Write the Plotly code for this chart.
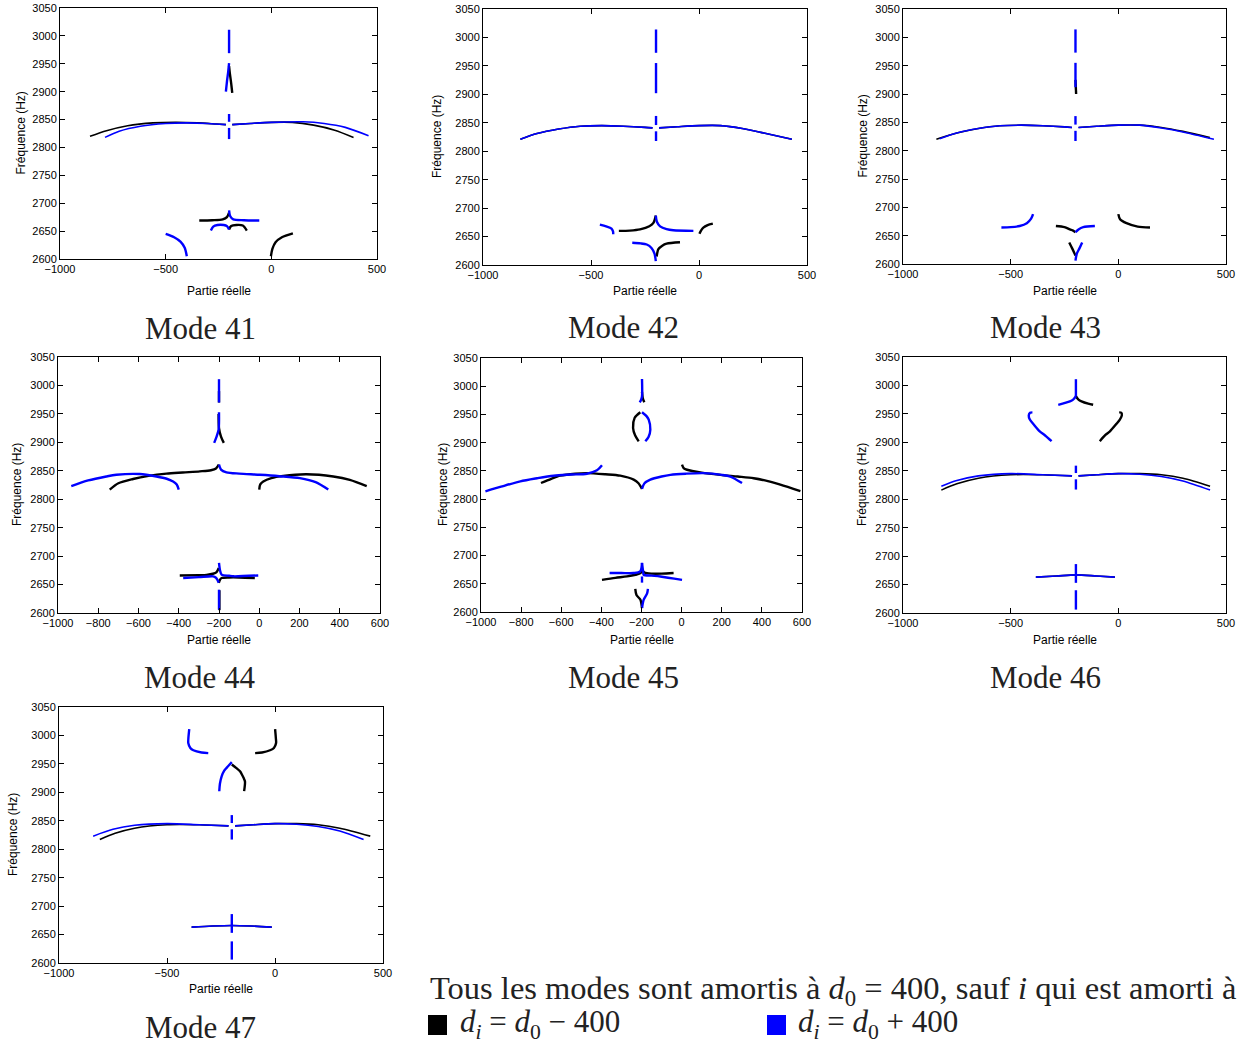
import plotly.graph_objects as go

# ---------------- data ----------------
MODES = ["Mode 41", "Mode 42", "Mode 43", "Mode 44", "Mode 45", "Mode 46", "Mode 47"]
Y_TICKS = [2600, 2650, 2700, 2750, 2800, 2850, 2900, 2950, 3000, 3050]
X_TICKS_A = [-1000, -500, 0, 500]
X_TICKS_B = [-1000, -800, -600, -400, -200, 0, 200, 400, 600]
X_RANGES = [[-1000, 500], [-1000, 500], [-1000, 500], [-1000, 600], [-1000, 600], [-1000, 500], [-1000, 500]]
X_TICKS = [X_TICKS_A, X_TICKS_A, X_TICKS_A, X_TICKS_B, X_TICKS_B, X_TICKS_A, X_TICKS_A]

# each entry: a list of curve segments, each segment a list of (partie reelle, frequence)
M41_BLACK = [
    [(-858, 2820), (-780, 2830), (-680, 2839), (-560, 2844), (-450, 2845), (-350, 2844), (-260, 2842), (-215, 2841)],
    [(-185, 2841), (-100, 2843), (0, 2845), (100, 2845), (200, 2840), (300, 2831), (389, 2818)],
    [(-185, 2898), (-190, 2915), (-196, 2932), (-200, 2946)],
    [(-341, 2669), (-280, 2669.5), (-230, 2671), (-210, 2675), (-200, 2683)],
    [(-200, 2653), (-190, 2659), (-165, 2661), (-135, 2660), (-116, 2651)],
    [(-2, 2605), (5, 2618), (20, 2630), (50, 2639), (102, 2646)],
]
M41_BLUE = [
    [(-200, 2969), (-200, 3011)],
    [(-215, 2900), (-210, 2918), (-204, 2936), (-200, 2951)],
    [(-200, 2815), (-200, 2835)],
    [(-200, 2846), (-200, 2860)],
    [(-787, 2818), (-720, 2829), (-620, 2838), (-500, 2843), (-400, 2844), (-300, 2843), (-215, 2841)],
    [(-185, 2841), (-100, 2843), (0, 2845), (150, 2846), (250, 2843), (350, 2836), (460, 2821)],
    [(-200, 2687), (-195, 2677), (-180, 2671), (-130, 2669.5), (-57, 2669)],
    [(-286, 2651), (-275, 2658), (-255, 2661), (-225, 2661), (-210, 2659), (-200, 2653)],
    [(-500, 2645), (-460, 2639), (-430, 2631), (-410, 2620), (-400, 2605)],
]

M42_BLACK = [
    [(-827, 2821), (-750, 2831), (-650, 2839), (-550, 2844), (-450, 2845), (-350, 2844), (-250, 2842), (-215, 2841)],
    [(-185, 2841), (-100, 2843), (0, 2845), (100, 2845), (200, 2840), (300, 2832), (430, 2821)],
    [(-371, 2660), (-320, 2660.5), (-273, 2662.6), (-230, 2668), (-211, 2674), (-200, 2687)],
    [(2, 2655), (10, 2661), (20, 2665.6), (40, 2670), (64, 2672.6)],
    [(-196, 2615), (-188, 2628), (-170, 2634), (-150, 2637.5), (-88, 2640)],
]
M42_BLUE = [
    [(-199, 2973), (-199, 3014)],
    [(-199, 2902), (-199, 2955)],
    [(-199, 2818), (-199, 2835)],
    [(-199, 2846), (-199, 2862)],
    [(-827, 2821), (-750, 2831), (-650, 2839), (-550, 2844), (-450, 2845), (-350, 2844), (-250, 2842), (-215, 2841)],
    [(-185, 2841), (-100, 2843), (0, 2845), (100, 2845), (200, 2840), (300, 2832), (430, 2821)],
    [(-459, 2671), (-430, 2668), (-405, 2664), (-398, 2659), (-397, 2654)],
    [(-200, 2687), (-195, 2676), (-180, 2668), (-150, 2663), (-119, 2661), (-26, 2660)],
    [(-309, 2639), (-270, 2638), (-242, 2636), (-220, 2630), (-206, 2620), (-200, 2607)],
]

M43_BLACK = [
    [(-845, 2820), (-750, 2831), (-650, 2839), (-550, 2844), (-450, 2845), (-350, 2844), (-250, 2842), (-215, 2841)],
    [(-185, 2841), (-100, 2843), (0, 2845), (100, 2845), (200, 2841), (300, 2834), (425, 2823)],
    [(-196, 2900), (-199, 2925)],
    [(-290, 2667), (-250, 2665), (-225, 2661), (-210, 2659), (-199, 2656)],
    [(0, 2688), (8, 2679), (38, 2672), (90, 2666), (147, 2664.5)],
    [(-228, 2638), (-215, 2628), (-205, 2620), (-199, 2615)],
]
M43_BLUE = [
    [(-199, 2973), (-199, 3014)],
    [(-199, 2912), (-199, 2955)],
    [(-199, 2817), (-199, 2835)],
    [(-199, 2846), (-199, 2861)],
    [(-830, 2821), (-750, 2831), (-650, 2839), (-550, 2844), (-450, 2845), (-350, 2844), (-250, 2842), (-215, 2841)],
    [(-185, 2841), (-100, 2843), (0, 2845), (100, 2845), (200, 2840), (300, 2833), (444, 2820)],
    [(-543, 2664.5), (-500, 2665), (-458, 2667), (-425, 2672), (-405, 2680), (-396, 2688)],
    [(-199, 2656), (-185, 2661), (-163, 2665), (-109, 2667)],
    [(-168, 2638), (-180, 2628), (-193, 2618), (-199, 2606)],
]

M44_BLACK = [
    [(-200, 2970), (-200, 2990)],
    [(-176, 2899), (-190, 2910), (-200, 2925), (-202, 2950)],
    [(-743, 2817), (-700, 2828), (-627, 2835.5), (-550, 2841), (-461, 2845), (-380, 2847), (-295, 2849), (-240, 2851), (-215, 2854), (-201, 2861)],
    [(0, 2817), (5, 2826), (20, 2831), (60, 2837), (119, 2841), (235, 2844), (368, 2840), (450, 2834), (534, 2823)],
    [(-395, 2666), (-300, 2666.5), (-262, 2667), (-230, 2669), (-212, 2672), (-201, 2679)],
    [(-201, 2653), (-194, 2659), (-187, 2661.5), (-150, 2662.5), (-100, 2662.5), (-22, 2661.5)],
    [(-198, 2605), (-198, 2640)],
]
M44_BLUE = [
    [(-200, 2970), (-200, 3011)],
    [(-224, 2899), (-212, 2910), (-202, 2922), (-200, 2935), (-200, 2953)],
    [(-934, 2823), (-850, 2833), (-760, 2840), (-710, 2843), (-594, 2844.3), (-511, 2840), (-460, 2836), (-428, 2831), (-410, 2826), (-400, 2817)],
    [(-200, 2861), (-190, 2852), (-163, 2847.3), (-100, 2845), (3, 2843), (100, 2840.5), (202, 2837), (280, 2830), (343, 2817)],
    [(-200, 2688), (-195, 2675), (-187, 2667.4), (-150, 2665.5), (-129, 2664.5), (-5, 2666)],
    [(-378, 2661.5), (-300, 2663), (-229, 2664.5), (-215, 2662), (-209, 2659), (-201, 2653)],
    [(-200, 2606), (-200, 2641)],
]

M45_BLACK = [
    [(-197.5, 2990), (-193, 2978), (-186, 2971.5)],
    [(-214, 2902.4), (-232, 2913), (-242, 2926), (-234, 2944), (-206, 2954)],
    [(-701, 2828.5), (-650, 2836), (-605, 2841.5), (-530, 2845), (-472, 2846), (-380, 2844), (-306, 2841.5), (-239, 2834.4), (-215, 2828), (-197.5, 2818)],
    [(2, 2861), (10, 2855), (27, 2852), (100, 2847), (193, 2843), (280, 2840), (359, 2837), (430, 2832), (492, 2825.6), (592, 2814)],
    [(-397, 2657), (-330, 2660.5), (-272, 2663), (-230, 2666), (-205, 2669), (-197.5, 2675)],
    [(-197.5, 2675), (-185, 2670), (-150, 2668), (-100, 2668), (-40, 2669)],
    [(-231, 2641), (-225, 2630), (-206, 2622), (-197.5, 2607)],
]
M45_BLUE = [
    [(-197.5, 3012.8), (-197.5, 2982), (-203, 2975), (-209, 2971.5)],
    [(-197.5, 2954), (-175, 2947), (-164, 2940.7), (-156, 2923), (-165, 2910), (-181, 2902.4)],
    [(-978, 2813.8), (-900, 2822), (-804, 2831.5), (-720, 2837), (-638, 2841.5), (-550, 2843.5), (-472, 2845), (-422, 2851), (-397, 2860)],
    [(-197.5, 2818), (-185, 2828), (-156, 2834.4), (-100, 2840), (-56, 2843), (20, 2845), (110, 2846), (200, 2843), (243, 2840), (301, 2828.5)],
    [(-359, 2669), (-300, 2669), (-239, 2669), (-206, 2672), (-197.5, 2687)],
    [(-197.5, 2687), (-192, 2672), (-189, 2666), (-150, 2664.5), (-106, 2663), (2, 2657)],
    [(-197.5, 2652), (-197.5, 2663)],
    [(-168, 2641), (-172, 2633), (-189, 2622), (-197.5, 2607)],
]

M46_BLACK = [
    [(-197, 2981), (-185, 2975), (-171, 2972), (-140, 2968), (-117, 2966)],
    [(-86, 2902), (-60, 2913), (-39, 2919.3), (-10, 2932), (7, 2940), (16, 2947), (14, 2952), (4, 2952.7)],
    [(-822, 2816), (-750, 2827), (-650, 2837), (-500, 2843), (-350, 2843), (-215, 2841)],
    [(-185, 2841), (-100, 2843), (0, 2845), (100, 2845), (200, 2843), (300, 2837), (426, 2823)],
    [(-383, 2663), (-287, 2665), (-197, 2667), (-101, 2665), (-16, 2663)],
]
M46_BLUE = [
    [(-197, 3011), (-197, 2981)],
    [(-197, 2981), (-210, 2975), (-225, 2972), (-279, 2966)],
    [(-310, 2902), (-340, 2912), (-365, 2919.3), (-390, 2930), (-411, 2940), (-416, 2947), (-410, 2952), (-399, 2952.7)],
    [(-822, 2823), (-750, 2833), (-650, 2841), (-500, 2845), (-350, 2843), (-215, 2841)],
    [(-185, 2841), (-100, 2843), (0, 2845), (100, 2844), (200, 2840), (300, 2832), (426, 2816)],
    [(-197, 2817), (-197, 2835)],
    [(-197, 2846), (-197, 2859)],
    [(-383, 2663), (-287, 2665), (-197, 2667), (-101, 2665), (-16, 2663)],
    [(-197, 2653), (-197, 2686)],
    [(-197, 2606), (-197, 2640)],
]

M47_BLACK = [
    [(0.5, 3011), (4, 2995), (5, 2986.7), (-5, 2978), (-23, 2974), (-60, 2970), (-92, 2969)],
    [(-200, 2949), (-180, 2943), (-162, 2937), (-145, 2925), (-139, 2919), (-143, 2902)],
    [(-811, 2817), (-740, 2828), (-650, 2837), (-500, 2843), (-350, 2843), (-215, 2841)],
    [(-185, 2841), (-100, 2843), (0, 2845), (100, 2845), (200, 2843), (300, 2837), (441, 2823)],
    [(-386, 2663), (-290, 2665), (-200, 2666), (-110, 2665), (-15, 2663)],
]
M47_BLUE = [
    [(-397, 3011), (-401, 2995), (-401.5, 2986.7), (-392, 2978), (-378, 2974), (-340, 2970), (-309, 2969)],
    [(-258, 2902), (-255, 2915), (-247, 2928), (-235, 2938), (-224, 2943), (-200, 2953)],
    [(-842, 2823), (-750, 2835), (-650, 2842), (-500, 2845), (-350, 2843), (-215, 2841)],
    [(-185, 2841), (-100, 2843), (0, 2845), (100, 2844), (200, 2840), (300, 2832), (410, 2817)],
    [(-200, 2817), (-200, 2835)],
    [(-200, 2846), (-200, 2860)],
    [(-386, 2663), (-290, 2665), (-200, 2666), (-110, 2665), (-15, 2663)],
    [(-200, 2653), (-200, 2686)],
    [(-200, 2606), (-200, 2638)],
]

BLACK_SETS = [M41_BLACK, M42_BLACK, M43_BLACK, M44_BLACK, M45_BLACK, M46_BLACK, M47_BLACK]
BLUE_SETS = [M41_BLUE, M42_BLUE, M43_BLUE, M44_BLUE, M45_BLUE, M46_BLUE, M47_BLUE]

# ---------------- layout / style ----------------
W, H = 1250, 1044
BOXES = [  # left, top, right, bottom in pixels
    (60, 8, 377, 259), (483, 9, 807, 265), (903, 9, 1226, 264),
    (58, 357, 380, 613), (481, 358, 802, 612), (903, 357, 1226, 613),
    (59, 707, 383, 963),
]
MODE_TITLE_POS = [(200, 328), (623, 327), (1045, 327), (200, 677), (623, 677), (1045, 677), (200, 1027)]
XTITLE_Y = [291, 291, 291, 640, 640, 640, 989]
YTITLE_X = [20, 437, 862, 17, 443, 862, 13]
THIN_ARC_PANELS = {0, 1, 2, 5, 6}  # panels whose wide arcs are drawn as fine dotted traces

BLACK = "#000000"
BLUE = "#0000ff"
SANS = "Liberation Sans, Arial, sans-serif"
SERIF = "Liberation Serif, Times New Roman, serif"


def px(x):
    return x / W


def py(y):
    return 1 - y / H


fig = go.Figure()
layout = dict(width=W, height=H, margin=dict(l=0, r=0, t=0, b=0, autoexpand=False),
              paper_bgcolor="white", plot_bgcolor="white", showlegend=False)

annotations = []
for i in range(7):
    sfx = "" if i == 0 else str(i + 1)
    xa, ya = "x" + sfx, "y" + sfx
    l, t, r, b = BOXES[i]
    common = dict(showline=True, linecolor="black", linewidth=1, mirror="ticks",
                  ticks="inside", ticklen=5, tickwidth=1, tickcolor="black",
                  showgrid=False, zeroline=False, automargin=False,
                  tickfont=dict(family=SANS, size=11, color="black"))
    layout["xaxis" + sfx] = dict(common, domain=[px(l), px(r)], range=X_RANGES[i],
                                 tickvals=X_TICKS[i], anchor=ya)
    layout["yaxis" + sfx] = dict(common, domain=[py(b), py(t)], range=[2600, 3050],
                                 tickvals=Y_TICKS, anchor=xa)
    for color, sets in ((BLACK, BLACK_SETS), (BLUE, BLUE_SETS)):
        for seg in sets[i]:
            xs = [p[0] for p in seg]
            ys = [p[1] for p in seg]
            wide = (max(xs) - min(xs)) > 300
            width = 1.6 if (wide and i in THIN_ARC_PANELS) else 2.4
            fig.add_trace(go.Scatter(x=xs, y=ys, mode="lines", xaxis=xa, yaxis=ya,
                                     line=dict(color=color, width=width, shape="spline", smoothing=0.8),
                                     hoverinfo="skip"))
    cx = (l + r) / 2
    annotations.append(dict(text="Partie réelle", x=px(cx), y=py(XTITLE_Y[i]), xref="paper", yref="paper",
                            showarrow=False, xanchor="center", yanchor="middle",
                            font=dict(family=SANS, size=12, color="black")))
    annotations.append(dict(text="Fréquence (Hz)", x=px(YTITLE_X[i]), y=py((t + b) / 2), xref="paper", yref="paper",
                            showarrow=False, xanchor="center", yanchor="middle", textangle=-90,
                            font=dict(family=SANS, size=12, color="black")))
    mx, my = MODE_TITLE_POS[i]
    annotations.append(dict(text=MODES[i], x=px(mx), y=py(my), xref="paper", yref="paper",
                            showarrow=False, xanchor="center", yanchor="middle",
                            font=dict(family=SERIF, size=31, color="#222222")))

annotations.append(dict(text="Tous les modes sont amortis à <i>d</i><sub>0</sub> = 400, sauf <i>i</i> qui est amorti à",
                        x=px(428), y=py(990), xref="paper", yref="paper", showarrow=False,
                        xanchor="left", yanchor="middle", font=dict(family=SERIF, size=32.5, color="#222222")))
annotations.append(dict(text="<i>d</i><sub><i>i</i></sub> = <i>d</i><sub>0</sub> − 400",
                        x=px(458), y=py(1024), xref="paper", yref="paper", showarrow=False,
                        xanchor="left", yanchor="middle", font=dict(family=SERIF, size=31, color="#222222")))
annotations.append(dict(text="<i>d</i><sub><i>i</i></sub> = <i>d</i><sub>0</sub> + 400",
                        x=px(796), y=py(1024), xref="paper", yref="paper", showarrow=False,
                        xanchor="left", yanchor="middle", font=dict(family=SERIF, size=31, color="#222222")))
layout["annotations"] = annotations
layout["shapes"] = [
    dict(type="rect", xref="paper", yref="paper", x0=px(428), x1=px(447), y0=py(1035), y1=py(1015),
         fillcolor=BLACK, line=dict(width=0)),
    dict(type="rect", xref="paper", yref="paper", x0=px(767), x1=px(786), y0=py(1035), y1=py(1015),
         fillcolor=BLUE, line=dict(width=0)),
]

fig.update_layout(**layout)
fig.write_html("out.html", config={"displayModeBar": False},
               post_script="document.body.style.margin='0';document.body.style.overflow='hidden';")
